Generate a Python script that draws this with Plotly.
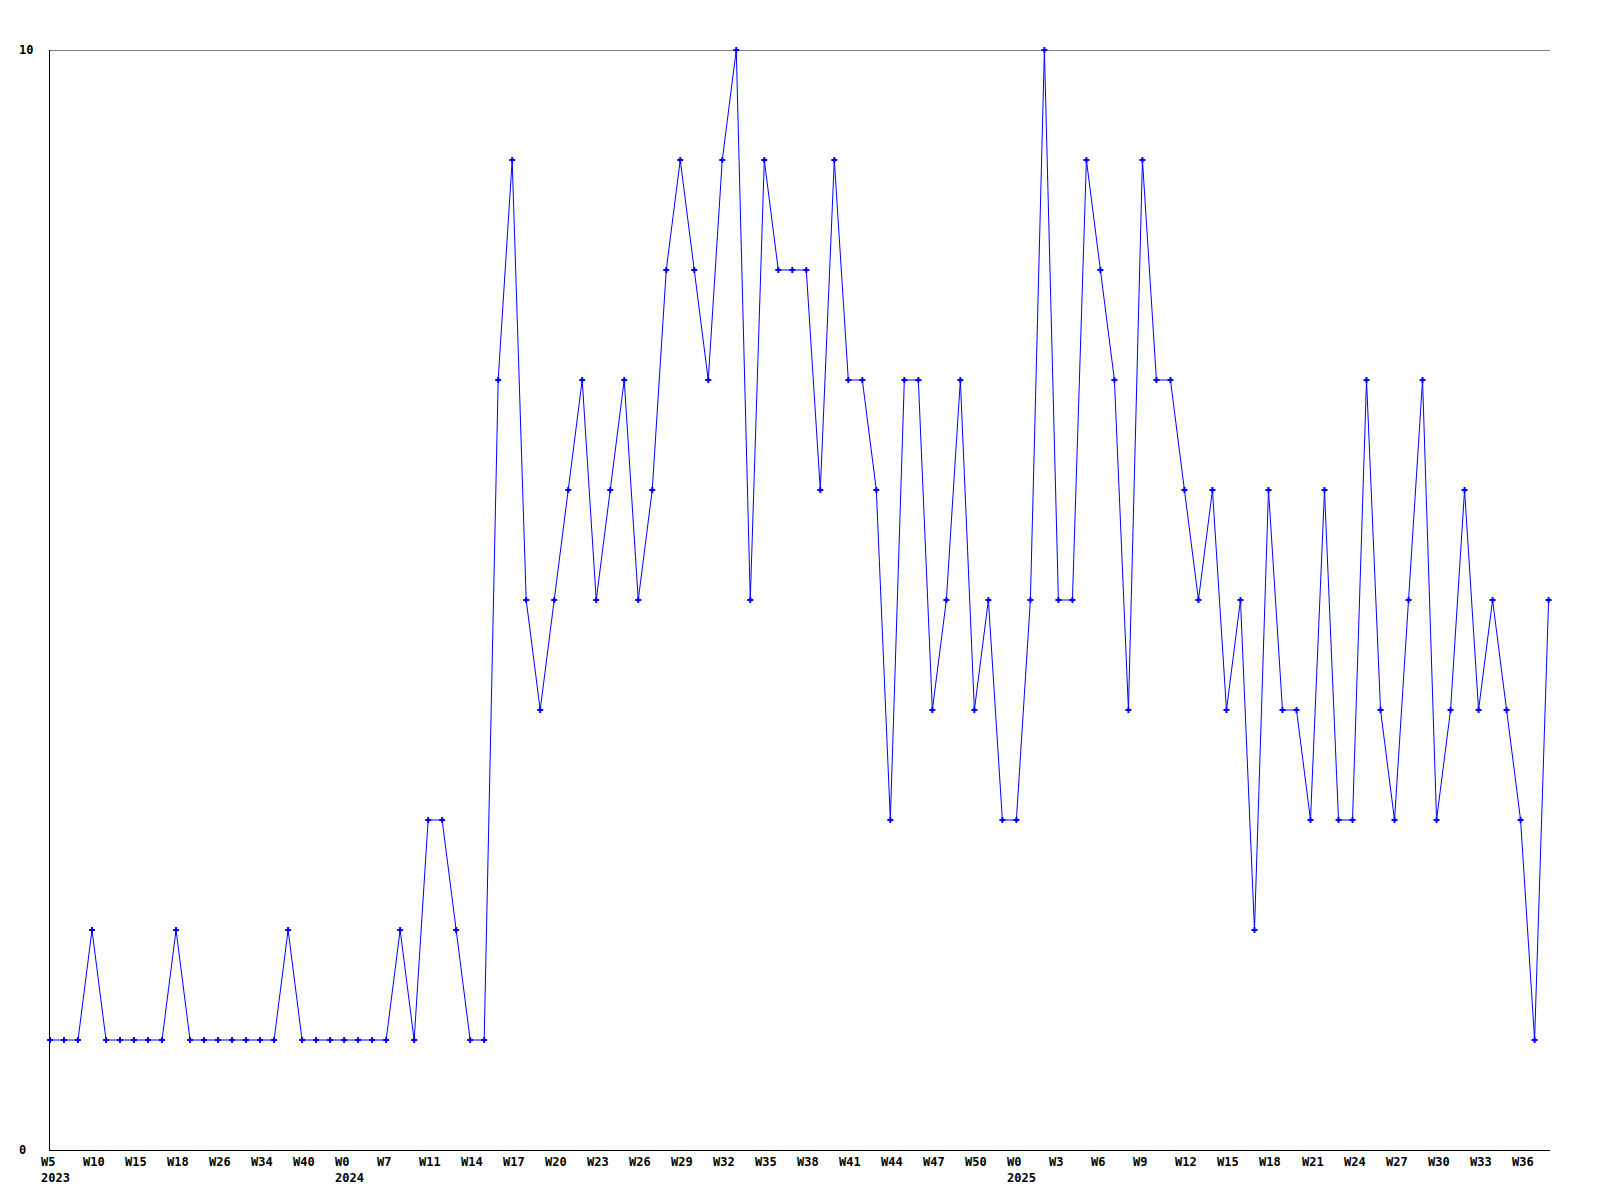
import plotly.graph_objects as go

# Values per data point (weekly entries, equally spaced)
values = [1, 1, 1, 2, 1, 1, 1, 1, 1, 2, 1, 1, 1, 1, 1, 1, 1, 2, 1, 1, 1, 1, 1, 1, 1, 2, 1, 3, 3, 2, 1, 1,
          7, 9, 5, 4, 5, 6, 7, 5, 6, 7, 5, 6, 8, 9, 8, 7, 9, 10, 5, 9, 8, 8, 8, 6, 9, 7, 7, 6, 3, 7, 7, 4, 5, 7, 4, 5,
          3, 3, 5, 10, 5, 5, 9, 8, 7, 4, 9, 7, 7, 6, 5, 6, 4, 5, 2, 6, 4, 4, 3, 6, 3, 3, 7, 4, 3, 5, 7, 3, 4, 6, 4, 5, 4, 3, 1, 5]

# Tick labels (one every third point)
week_labels = ["W5", "W10", "W15", "W18", "W26", "W34", "W40",
               "W0", "W7", "W11", "W14", "W17", "W20", "W23", "W26", "W29", "W32", "W35", "W38", "W41", "W44", "W47", "W50",
               "W0", "W3", "W6", "W9", "W12", "W15", "W18", "W21", "W24", "W27", "W30", "W33", "W36"]
tick_step = 3
year_labels = ["2023", "2024", "2025"]
year_label_pos = [0, 7, 23]  # index into week_labels

y_ticks = [0, 10]

FONT = dict(family="DejaVu Sans Mono", size=12, color="black", weight="bold")
BLUE = "#0000ff"

x = list(range(len(values)))

fig = go.Figure()
fig.add_trace(go.Scatter(
    x=x, y=values, mode="lines+markers",
    line=dict(color=BLUE, width=1),
    marker=dict(symbol="cross", size=5, color=BLUE, line=dict(width=0)),
    cliponaxis=False, showlegend=False, hoverinfo="x+y",
))

annotations = []
for i, lab in enumerate(week_labels):
    annotations.append(dict(
        x=i * tick_step, y=0, xref="x", yref="paper", text=lab,
        showarrow=False, xanchor="left", yanchor="top", xshift=-11, yshift=-3,
        font=FONT,
    ))
for lab, pos in zip(year_labels, year_label_pos):
    annotations.append(dict(
        x=pos * tick_step, y=0, xref="x", yref="paper", text=lab,
        showarrow=False, xanchor="left", yanchor="top", xshift=-11, yshift=-19,
        font=FONT,
    ))
for v in y_ticks:
    annotations.append(dict(
        x=0, y=v, xref="paper", yref="y", text=str(v),
        showarrow=False, xanchor="left", yanchor="middle", xshift=-33,
        font=FONT,
    ))

fig.update_layout(
    width=1600, height=1200,
    margin=dict(l=42, r=58, t=42, b=58, pad=0),
    paper_bgcolor="white", plot_bgcolor="white",
    annotations=annotations,
    shapes=[dict(type="line", xref="paper", yref="y", x0=0, x1=1,
                 y0=y_ticks[-1], y1=y_ticks[-1], line=dict(color="black", width=1), layer="below")],
    xaxis=dict(range=[0, 107.1], showgrid=False, zeroline=False, showticklabels=False,
               showline=True, linecolor="black", linewidth=1, ticks=""),
    yaxis=dict(range=[0, 10], tickvals=y_ticks, showticklabels=False, showgrid=False,
               zeroline=False, showline=True, linecolor="black", linewidth=1, ticks=""),
)

fig.write_html("out.html")
